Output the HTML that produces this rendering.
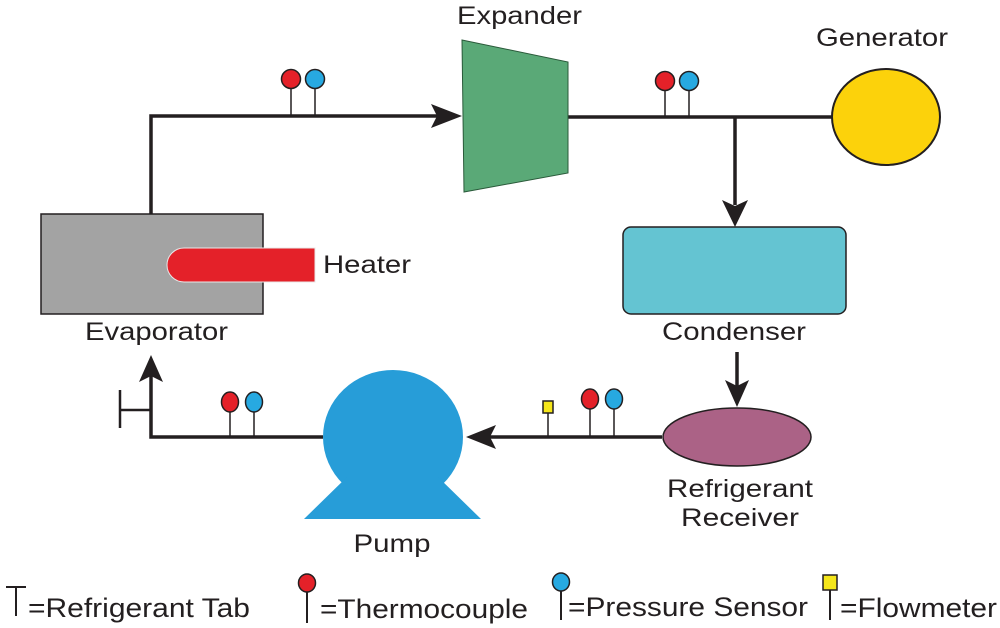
<!DOCTYPE html>
<html><head><meta charset="utf-8"><style>
html,body{margin:0;padding:0;background:#fff;}
svg{display:block;}
text{font-family:"Liberation Sans",sans-serif;fill:#231f20;}
</style></head><body>
<svg width="1000" height="628" viewBox="0 0 1000 628" xmlns="http://www.w3.org/2000/svg">
<g stroke="#231f20" stroke-width="3.5" fill="none">
<polyline points="151,214 151,116 440,116"/>
<line x1="568" y1="117" x2="832" y2="117"/>
<line x1="735" y1="117" x2="735" y2="205"/>
<line x1="737" y1="352" x2="737" y2="390"/>
<line x1="662" y1="437" x2="490" y2="437"/>
<polyline points="323,437 151,437 151,375"/>
<line x1="120" y1="410" x2="151" y2="410" stroke-width="2.5"/>
<line x1="120" y1="390" x2="120" y2="428" stroke-width="2.5"/>
</g>
<g fill="#231f20">
<polygon points="462,116 431,104 437,116 431,128"/>
<polygon points="735,227 722,200 735,206 748,200"/>
<polygon points="737,407 725,380 737,386 749,380"/>
<polygon points="466,437 496,425 490,437 496,449"/>
<polygon points="151,355 139,382 151,376 163,382"/>
</g>
<g stroke="#231f20" stroke-width="1.5">
<line x1="291" y1="80" x2="291" y2="116"/><line x1="315" y1="80" x2="315" y2="116"/>
<line x1="665" y1="82" x2="665" y2="117"/><line x1="689" y1="82" x2="689" y2="117"/>
<line x1="230" y1="403" x2="230" y2="437"/><line x1="254" y1="403" x2="254" y2="437"/>
<line x1="590" y1="400" x2="590" y2="437"/><line x1="614" y1="400" x2="614" y2="437"/>
<line x1="548" y1="410" x2="548" y2="437"/>
<circle cx="291" cy="79" r="9.5" fill="#e42129"/><circle cx="315" cy="79" r="9.5" fill="#27a9e1"/>
<circle cx="665" cy="81" r="9.5" fill="#e42129"/><circle cx="689" cy="81" r="9.5" fill="#27a9e1"/>
<ellipse cx="230" cy="402" rx="8.5" ry="10" fill="#e42129"/><ellipse cx="254" cy="402" rx="8.5" ry="10" fill="#27a9e1"/>
<ellipse cx="590" cy="399" rx="8.5" ry="10" fill="#e42129"/><ellipse cx="614" cy="399" rx="8.5" ry="10" fill="#27a9e1"/>
<rect x="543" y="401" width="10" height="12" fill="#f5e61a"/>
</g>
<polygon points="462,40 568,62 568,173 464,192" fill="#5aa977" stroke="#2a5a3a" stroke-width="1"/>
<ellipse cx="886" cy="117" rx="54" ry="48" fill="#fcd20b" stroke="#231f20" stroke-width="2"/>
<rect x="623" y="227" width="223" height="87" rx="8" fill="#64c4d2" stroke="#231f20" stroke-width="1.5"/>
<rect x="41" y="214" width="222" height="100" fill="#a3a3a3" stroke="#231f20" stroke-width="1.5"/>
<path d="M184,248 H315 V282 H184 A17,17 0 0 1 184,248 Z" fill="#e42129" stroke="#e8e8e8" stroke-width="1"/>
<ellipse cx="737" cy="437" rx="74" ry="29" fill="#ab6286" stroke="#231f20" stroke-width="1.5"/>
<ellipse cx="393" cy="437" rx="70" ry="67" fill="#279dd8"/>
<polygon points="348,476 437,476 481,519 304,519" fill="#279dd8"/>
<text x="457" y="24" font-size="25" textLength="125" lengthAdjust="spacingAndGlyphs">Expander</text>
<text x="816" y="46" font-size="25" textLength="132" lengthAdjust="spacingAndGlyphs">Generator</text>
<text x="323" y="273" font-size="25" textLength="88" lengthAdjust="spacingAndGlyphs">Heater</text>
<text x="85" y="340" font-size="25" textLength="143" lengthAdjust="spacingAndGlyphs">Evaporator</text>
<text x="662" y="340" font-size="25" textLength="144" lengthAdjust="spacingAndGlyphs">Condenser</text>
<text x="740" y="497" font-size="25" text-anchor="middle" textLength="146" lengthAdjust="spacingAndGlyphs">Refrigerant</text>
<text x="740" y="526" font-size="25" text-anchor="middle" textLength="118" lengthAdjust="spacingAndGlyphs">Receiver</text>
<text x="392" y="552" font-size="25" text-anchor="middle" textLength="77" lengthAdjust="spacingAndGlyphs">Pump</text>
<g stroke="#231f20" stroke-width="2">
<line x1="6" y1="587" x2="26" y2="587"/><line x1="16" y1="587" x2="16" y2="616"/>
<line x1="307" y1="590" x2="307" y2="623"/><line x1="561" y1="590" x2="561" y2="620"/><line x1="830" y1="590" x2="830" y2="620"/>
<ellipse cx="307" cy="583" rx="8.5" ry="9" fill="#e42129" stroke-width="1.5"/>
<ellipse cx="561" cy="582" rx="8.5" ry="9" fill="#27a9e1" stroke-width="1.5"/>
<rect x="823" y="575" width="14" height="15" fill="#f5e61a" stroke-width="1.5"/>
</g>
<text x="28" y="617" font-size="27" textLength="222" lengthAdjust="spacingAndGlyphs">=Refrigerant Tab</text>
<text x="320" y="618" font-size="27" textLength="208" lengthAdjust="spacingAndGlyphs">=Thermocouple</text>
<text x="568" y="616" font-size="27" textLength="240" lengthAdjust="spacingAndGlyphs">=Pressure Sensor</text>
<text x="840" y="617" font-size="27" textLength="157" lengthAdjust="spacingAndGlyphs">=Flowmeter</text>
</svg>
</body></html>
